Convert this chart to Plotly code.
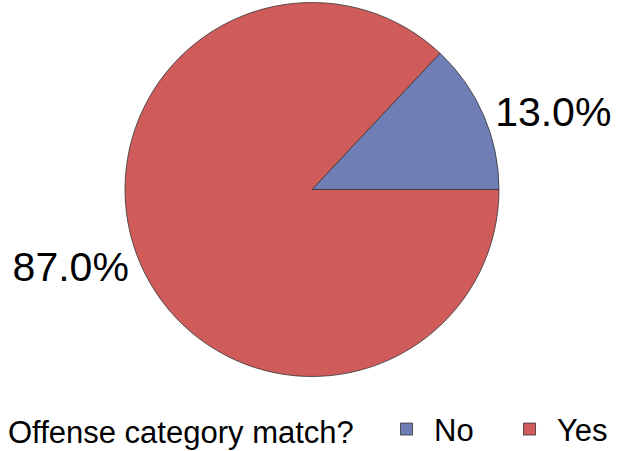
import plotly.graph_objects as go

labels = ["No", "Yes"]
values = [13.0, 87.0]
colors = ["#6f7eb4", "#d05b5b"]
legend_title = "Offense category match?"

W, H = 619, 451

# first slice ends at 3 o'clock, drawn clockwise
start_angle = 90 - 360 * values[0] / sum(values)

fig = go.Figure(go.Pie(
    labels=labels,
    values=values,
    sort=False,
    direction="clockwise",
    rotation=start_angle,
    marker=dict(colors=colors, line=dict(color="#333333", width=0.8)),
    textinfo="percent",
    texttemplate="%{percent:.1%}",
    textposition="outside",
    textfont=dict(family="Liberation Sans, Arial", size=41, color="black"),
    domain=dict(x=[125 / W, 499 / W], y=[1 - 377 / H, 1 - 2 / H]),
    hoverinfo="label+percent",
))

fig.update_layout(
    width=W, height=H,
    margin=dict(l=0, r=0, t=0, b=0, autoexpand=False),
    paper_bgcolor="white",
    plot_bgcolor="white",
    font=dict(family="Liberation Sans, Arial", color="black"),
    showlegend=True,
    legend=dict(
        orientation="h",
        xref="paper", yref="paper",
        x=6 / W, xanchor="left",
        y=-0.012, yanchor="bottom",
        title=dict(text=legend_title + "&nbsp;&nbsp;", side="left",
                   font=dict(family="Liberation Sans, Arial", size=31)),
        font=dict(family="Liberation Sans, Arial", size=31),
        itemwidth=45,
        entrywidth=63,
        traceorder="normal",
    ),
)

fig.write_html("out.html", config={"displayModeBar": False},
               post_script="document.body.style.margin='0';")
